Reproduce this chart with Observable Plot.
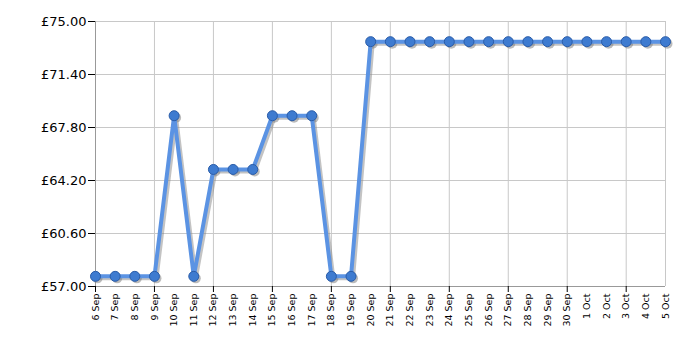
<!DOCTYPE html>
<html><head><meta charset="utf-8">
<script src="https://cdn.jsdelivr.net/npm/d3@7"></script>
<script src="https://cdn.jsdelivr.net/npm/@observablehq/plot@0.6"></script>
<style>body{margin:0;background:#fff}</style>
</head><body><div id="chart"></div>
<script>
const dates = ["6 Sep","7 Sep","8 Sep","9 Sep","10 Sep","11 Sep","12 Sep","13 Sep","14 Sep","15 Sep","16 Sep","17 Sep","18 Sep","19 Sep","20 Sep","21 Sep","22 Sep","23 Sep","24 Sep","25 Sep","26 Sep","27 Sep","28 Sep","29 Sep","30 Sep","1 Oct","2 Oct","3 Oct","4 Oct","5 Oct"];
const prices = [57.69,57.69,57.69,57.69,68.60,57.69,64.95,64.95,64.95,68.60,68.60,68.60,57.69,57.69,73.63,73.63,73.63,73.63,73.63,73.63,73.63,73.63,73.63,73.63,73.63,73.63,73.63,73.63,73.63,73.63];
const yTicks = [57, 60.6, 64.2, 67.8, 71.4, 75];
const majorDates = dates.filter((d, i) => i % 3 === 0);

const data = dates.map((d, i) => ({date: d, price: prices[i]}));
const fmt = v => "£" + v.toFixed(2);

const chart = Plot.plot({
  width: 700, height: 350,
  marginLeft: 95, marginRight: 35, marginTop: 21, marginBottom: 64,
  style: {fontFamily: "DejaVu Sans, Verdana, sans-serif", background: "#fff"},
  x: {type: "point", domain: dates, padding: 0, round: false},
  y: {domain: [57, 75]},
  marks: [
    Plot.gridY(yTicks, {stroke: "#c8c8c8", strokeOpacity: 1}),
    Plot.gridX(majorDates, {stroke: "#c8c8c8", strokeOpacity: 1}),
    Plot.ruleX([dates[dates.length - 1]], {stroke: "#c8c8c8"}),
    Plot.ruleX([dates[0]], {stroke: "#999"}),
    Plot.ruleY([57], {stroke: "#999"}),
    Plot.axisY(yTicks, {tickFormat: fmt, tickSize: 7, tickPadding: 2, fontSize: 13, stroke: "#000", fill: "#000", label: null}),
    Plot.axisX(majorDates, {tickSize: 6, text: null, stroke: "#000", label: null}),
    Plot.axisX(dates, {tickSize: 0, tickRotate: -90, tickPadding: 7, fontSize: 9.5, fill: "#000", label: null}),
    Plot.line(data, {x: "date", y: "price", stroke: "#888", strokeWidth: 4, strokeOpacity: 0.5, dx: 2, dy: 2}),
    Plot.dot(data, {x: "date", y: "price", r: 5, fill: "#777", fillOpacity: 0.5, dx: 2, dy: 2}),
    Plot.line(data, {x: "date", y: "price", stroke: "#5b93e3", strokeWidth: 4}),
    Plot.dot(data, {x: "date", y: "price", r: 5, fill: "#3e7bd0", stroke: "#2a5ca8", strokeWidth: 1})
  ]
});
document.getElementById("chart").appendChild(chart);
</script>
</body></html>
